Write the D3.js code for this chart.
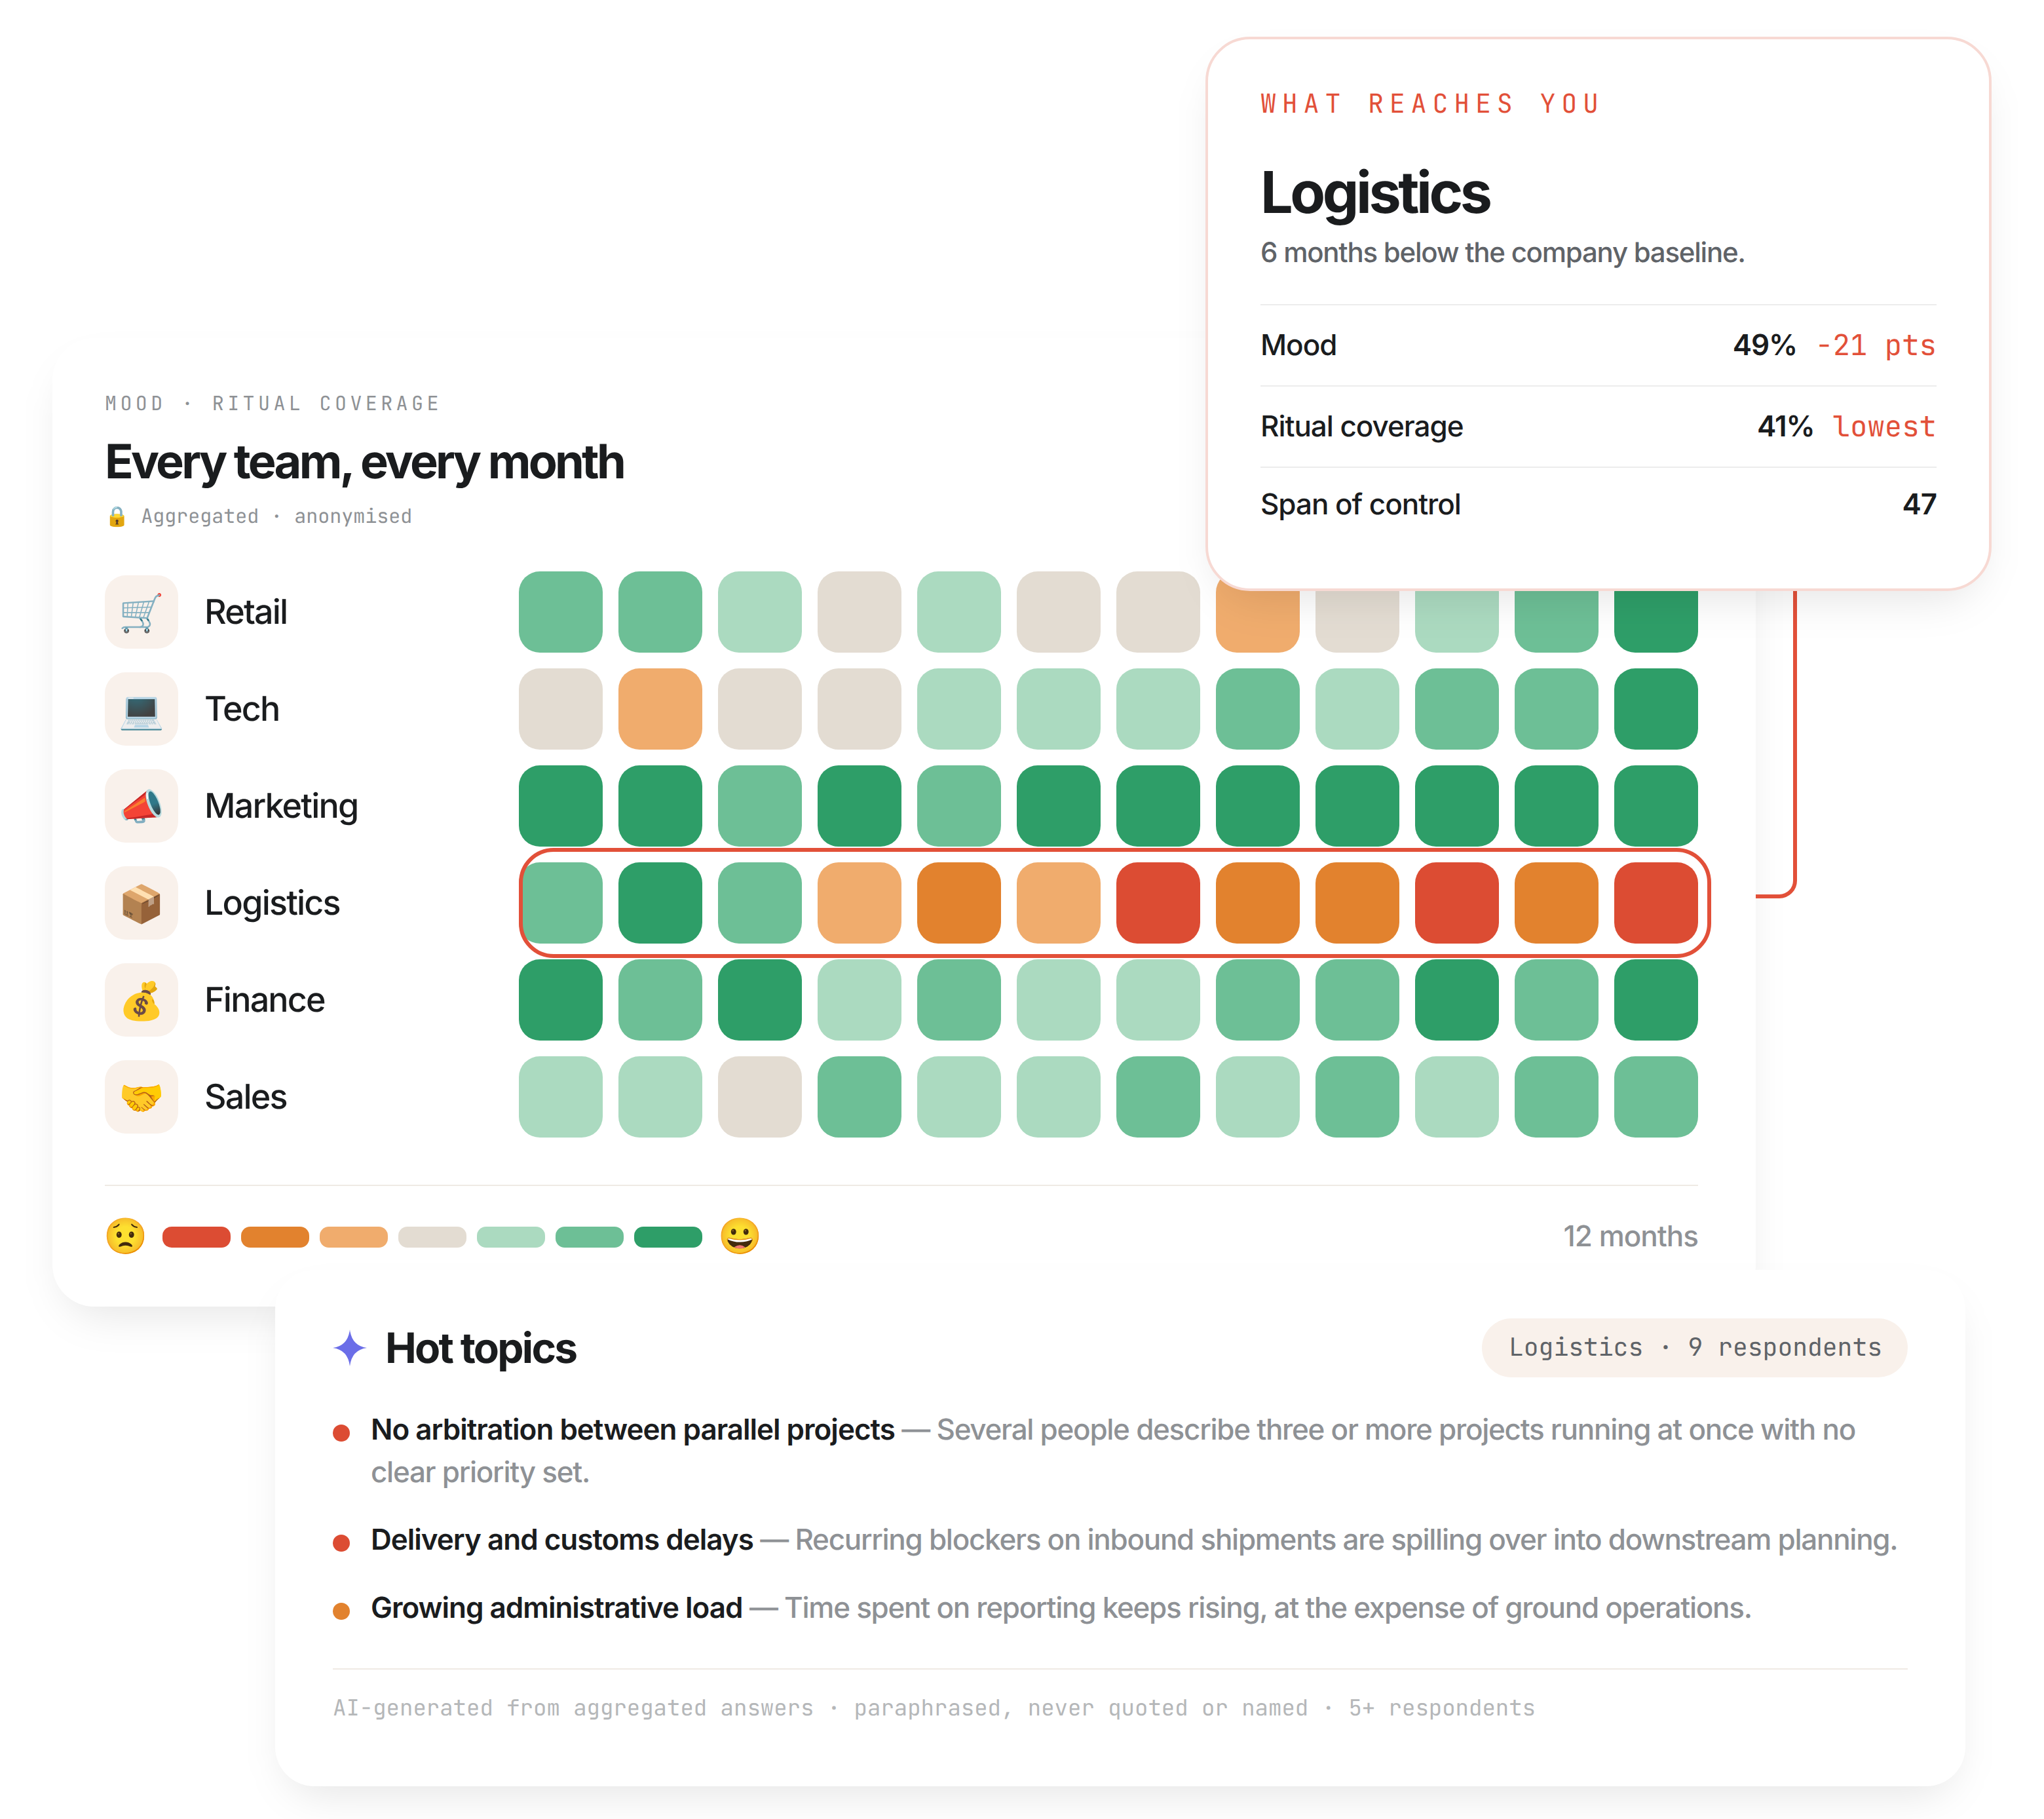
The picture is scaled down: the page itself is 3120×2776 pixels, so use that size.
<!DOCTYPE html>
<html><head><meta charset="utf-8">
<script src="https://cdn.jsdelivr.net/npm/d3@7"></script>
<style>
html,body{margin:0;padding:0;background:#fff;overflow:hidden}
svg{display:block}
text{text-rendering:geometricPrecision;font-kerning:normal}
.sans{font-family:Inter,"Noto Sans",sans-serif}
.mono{font-family:"JetBrains Mono","DejaVu Sans Mono","Liberation Mono",monospace}
</style></head><body>
<script>
const teams=["Retail","Tech","Marketing","Logistics","Finance","Sales"];
const teamIcons=["🛒","💻","📣","📦","💰","🤝"];
const months=["M1","M2","M3","M4","M5","M6","M7","M8","M9","M10","M11","M12"];
const retail=[5,5,4,3,4,3,3,2,3,4,5,6];
const tech=[3,2,3,3,4,4,4,5,4,5,5,6];
const marketing=[6,6,5,6,5,6,6,6,6,6,6,6];
const logistics=[5,6,5,2,1,2,0,1,1,0,1,0];
const finance=[6,5,6,4,5,4,4,5,5,6,5,6];
const sales=[4,4,3,5,4,4,5,4,5,4,5,5];
const moodRows=[retail,tech,marketing,logistics,finance,sales];
const moodLevels=[0,1,2,3,4,5,6];
const moodColors=["#DC4C33","#E2822E","#F0AC6D","#E3DCD2","#ABDAC0","#6DBF96","#2E9E68"];
const calloutRows=[["Mood","49%","-21 pts"],["Ritual coverage","41%","lowest"],["Span of control","47",""]];
const topics=[
 {level:0,head:"No arbitration between parallel projects",lines:[" — Several people describe three or more projects running at once with no","clear priority set."]},
 {level:0,head:"Delivery and customs delays",lines:[" — Recurring blockers on inbound shipments are spilling over into downstream planning."]},
 {level:1,head:"Growing administrative load",lines:[" — Time spent on reporting keeps rising, at the expense of ground operations."]}
];

const INK="#1A1C1E",GREY="#8E9195",MID="#5F6368",ACCENT="#E25039",CREAM="#F9F1EB",RULE="#EFEAE4";
const color=d3.scaleOrdinal(moodLevels,moodColors);
const svg=d3.select("body").append("svg").attr("width",3120).attr("height",2776).attr("viewBox","0 0 3120 2776");
const defs=svg.append("defs");
defs.append("filter").attr("id","blur").attr("x","-20%").attr("y","-20%").attr("width","140%").attr("height","140%")
  .append("feGaussianBlur").attr("stdDeviation",30);

function card(p,x,y,w,h,r,border){
  p.append("rect").attr("x",x+15).attr("y",y+45).attr("width",w-30).attr("height",h-30).attr("rx",r)
    .attr("fill","#000").attr("fill-opacity",.095).attr("filter","url(#blur)");
  const c=p.append("rect").attr("x",x).attr("y",y).attr("width",w).attr("height",h).attr("rx",r).attr("fill","#fff");
  if(border) c.attr("x",x+2).attr("y",y+2).attr("width",w-4).attr("height",h-4).attr("rx",r-2).attr("stroke",border).attr("stroke-width",4);
}
function txt(p,cls,x,y,size,weight,fill,s,ls,anchor){
  return p.append("text").attr("class",cls).attr("x",x).attr("y",y)
    .attr("font-size",size).attr("font-weight",weight).attr("fill",fill)
    .attr("letter-spacing",ls||0).attr("text-anchor",anchor||"start").text(s);
}

/* main card */
const main=svg.append("g");
card(main,80,516,2600,1478,64);
txt(main,"mono",160,626,30,400,GREY,"MOOD · RITUAL COVERAGE",5.4);
txt(main,"sans",160,730,72,700,INK,"Every team, every month",-3.75);
txt(main,"mono",160,798,30,400,GREY,"🔒 Aggregated · anonymised");

const x=d3.scaleBand().domain(months).range([792,2592]).paddingInner(24/152);
const y=d3.scaleBand().domain(teams).range([872,1736]).paddingInner(24/148);

const rowG=main.selectAll("g.row").data(teams).join("g").attr("class","row");
rowG.append("rect").attr("x",160).attr("y",d=>y(d)+y.bandwidth()/2-56).attr("width",112).attr("height",112).attr("rx",32).attr("fill",CREAM);
rowG.append("text").attr("class","sans").attr("x",216).attr("y",d=>y(d)+y.bandwidth()/2+21).attr("font-size",56).attr("text-anchor","middle")
  .text((d,i)=>teamIcons[i]);
rowG.append("text").attr("class","sans").attr("x",312).attr("y",d=>y(d)+y.bandwidth()/2+18).attr("font-size",52).attr("font-weight",500)
  .attr("letter-spacing",-1.8).attr("fill",INK).text(d=>d);

rowG.each(function(t,i){
  d3.select(this).selectAll("rect.cell").data(moodRows[i]).join("rect").attr("class","cell")
    .attr("x",(v,j)=>x(months[j])).attr("y",y(t)).attr("width",x.bandwidth()).attr("height",y.bandwidth())
    .attr("rx",32).attr("fill",v=>color(v));
});

/* highlight ring */
main.append("rect").attr("x",x(months[0])+3).attr("y",y("Logistics")-19)
  .attr("width",x(months[11])+x.bandwidth()+17-x(months[0])-3).attr("height",y.bandwidth()+38)
  .attr("rx",50).attr("fill","none").attr("stroke",ACCENT).attr("stroke-width",6);

/* legend */
main.append("rect").attr("x",160).attr("y",1808).attr("width",2432).attr("height",2).attr("fill",RULE);
const lx=d3.scaleBand().domain(moodLevels).range([248,1072]).paddingInner(16/120);
main.selectAll("rect.leg").data(moodLevels).join("rect").attr("class","leg")
  .attr("x",d=>lx(d)).attr("y",1872).attr("width",lx.bandwidth()).attr("height",32).attr("rx",14).attr("fill",d=>color(d));
txt(main,"sans",192,1905,54,400,INK,"😟",0,"middle");
txt(main,"sans",1130,1905,54,400,INK,"😀",0,"middle");
txt(main,"sans",2592,1902,44,500,GREY,"12 months",-1,"end");

/* connector */
const cy=y("Logistics")+y.bandwidth()/2-10;
svg.append("path").attr("fill","none").attr("stroke",ACCENT).attr("stroke-width",6)
  .attr("d",`M2680,${cy}H2716A24,24 0 0 0 2740,${cy-24}V880`);

/* hot topics */
const hot=svg.append("g");
card(hot,420,1938,2580,788,60);
hot.append("path").attr("fill","#6B6EE8")
  .attr("d","M534,2029Q537,2054 560,2057Q537,2060 534,2085Q531,2060 508,2057Q531,2054 534,2029Z");
txt(hot,"sans",588,2080,64,700,INK,"Hot topics",-2.75);
hot.append("rect").attr("x",2262).attr("y",2012).attr("width",650).attr("height",90).attr("rx",45).attr("fill",CREAM);
txt(hot,"mono",2303,2069,38,400,MID,"Logistics · 9 respondents");

const baselines=[[2197,2262],[2365],[2469]];
topics.forEach((t,i)=>{
  hot.append("circle").attr("cx",521).attr("cy",baselines[i][0]-10).attr("r",13).attr("fill",color(t.level));
  const l=hot.append("text").attr("class","sans").attr("x",566).attr("y",baselines[i][0]).attr("font-size",44);
  l.append("tspan").attr("font-weight",600).attr("fill",INK).attr("letter-spacing",-1).text(t.head);
  l.append("tspan").attr("font-weight",500).attr("fill",GREY).attr("letter-spacing",-1.28).text(t.lines[0]);
  if(t.lines[1]) txt(hot,"sans",566,baselines[i][1],44,500,GREY,t.lines[1],-1.28);
});
hot.append("rect").attr("x",508).attr("y",2546).attr("width",2404).attr("height",2).attr("fill",RULE);
txt(hot,"mono",508,2618,34,400,"#B5B7B9","AI-generated from aggregated answers · paraphrased, never quoted or named · 5+ respondents");

/* callout */
const call=svg.append("g");
card(call,1840,56,1200,846,68,"#F7D9D3");
txt(call,"mono",1924,172,40,400,ACCENT,"WHAT REACHES YOU",8.8);
txt(call,"sans",1924,325,88,700,INK,"Logistics",-4.45);
txt(call,"sans",1924,400,42,500,MID,"6 months below the company baseline.",-1.25);
[465,589,713].forEach(v=>call.append("rect").attr("x",1924).attr("y",v-1).attr("width",1032).attr("height",2).attr("fill","#ECECEC"));
const rowBase=[542,666,785];
calloutRows.forEach((r,i)=>{
  txt(call,"sans",1924,rowBase[i],44,500,INK,r[0],-1.05);
  if(r[2]){
    const w=r[2].length*26.4;
    txt(call,"sans",2956-w-28,rowBase[i],44,600,INK,r[1],-1.05,"end");
    txt(call,"mono",2956,rowBase[i],44,400,ACCENT,r[2],0,"end");
  } else txt(call,"sans",2956,rowBase[i],44,600,INK,r[1],-1.05,"end");
});
</script></body></html>
